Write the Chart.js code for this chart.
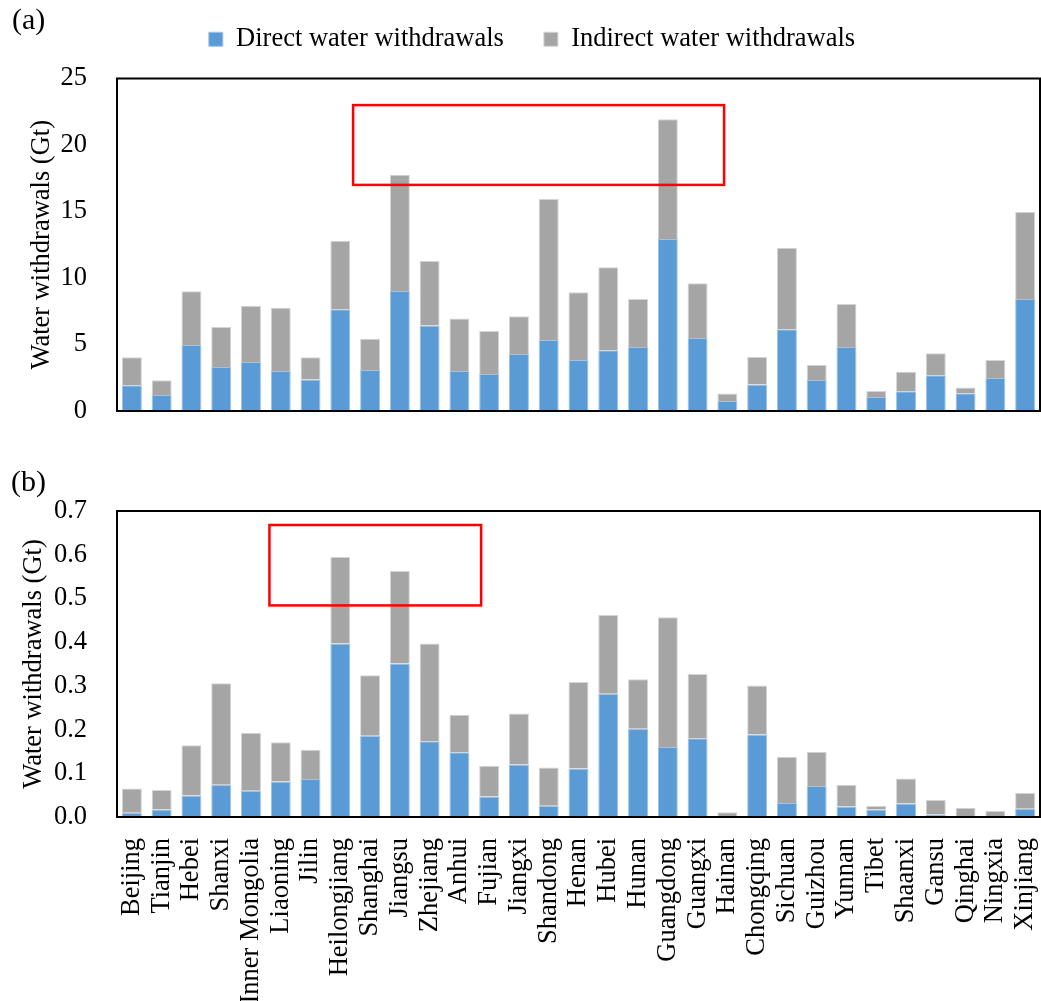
<!DOCTYPE html>
<html>
<head>
<meta charset="utf-8">
<script src="https://cdn.jsdelivr.net/npm/chart.js@4/dist/chart.umd.min.js"></script>
<style>
  html, body { margin: 0; padding: 0; background: #fff; }
  #wrap { position: relative; width: 1041px; height: 1001px; }
  #panelA { position: absolute; left: 0; top: 0; }
  #panelB { position: absolute; left: 0; top: 430px; }
</style>
</head>
<body>
<div id="wrap">
  <canvas id="panelA" width="1041" height="430"></canvas>
  <canvas id="panelB" width="1041" height="571"></canvas>
</div>
<script>
// Provinces along the x axis
const provinces = ['Beijing','Tianjin','Hebei','Shanxi','Inner Mongolia','Liaoning','Jilin',
  'Heilongjiang','Shanghai','Jiangsu','Zhejiang','Anhui','Fujian','Jiangxi','Shandong','Henan',
  'Hubei','Hunan','Guangdong','Guangxi','Hainan','Chongqing','Sichuan','Guizhou','Yunnan',
  'Tibet','Shaanxi','Gansu','Qinghai','Ningxia','Xinjiang'];

const seriesNames = ['Direct water withdrawals', 'Indirect water withdrawals'];

// Panel (a): water withdrawals, Gt
const directA = [1.93,1.20,4.96,3.31,3.68,3.00,2.36,7.65,3.08,9.02,6.42,3.00,2.78,4.29,5.34,3.83,
  4.56,4.81,12.93,5.49,0.75,2.00,6.14,2.33,4.81,1.05,1.48,2.68,1.33,2.48,8.42];
const indirectA = [2.11,1.11,4.04,3.01,4.24,4.77,1.68,5.16,2.36,8.75,4.86,3.95,3.24,2.83,10.60,5.09,
  6.24,3.61,9.00,4.11,0.56,2.06,6.14,1.13,3.24,0.45,1.48,1.66,0.43,1.35,6.54];

// Panel (b): water withdrawals, Gt
const directB = [0.010,0.017,0.049,0.074,0.060,0.081,0.087,0.397,0.186,0.351,0.173,0.148,0.047,0.120,
  0.026,0.111,0.282,0.202,0.160,0.180,0.001,0.189,0.032,0.071,0.024,0.017,0.031,0.006,0.001,0.001,0.019];
const indirectB = [0.055,0.045,0.115,0.232,0.133,0.090,0.067,0.198,0.138,0.212,0.224,0.086,0.070,0.117,
  0.087,0.198,0.180,0.113,0.297,0.147,0.010,0.112,0.106,0.078,0.050,0.008,0.057,0.033,0.020,0.013,0.036];

// Y axis ranges
const yTicksA = { min: 0, max: 25, step: 5 };
const yTicksB = { min: 0, max: 0.7, step: 0.1 };

// Highlight rectangles in data units: category index span and value span
const highlightA = { x0: 7.43, x1: 19.89, y0: 17, y1: 23 };
const highlightB = { x0: 4.62, x1: 11.73, y0: 0.484, y1: 0.668 };

const BLUE = '#5B9BD5';
const GREY = '#A5A5A5';
const FONT = { family: "'Liberation Serif', 'Times New Roman', serif", size: 26.5 };

Chart.defaults.font.family = FONT.family;
Chart.defaults.font.size = FONT.size;
Chart.defaults.color = '#000';

// Black frame round the plot area
const framePlugin = {
  id: 'frame',
  afterDatasetsDraw(chart) {
    const { ctx, chartArea: a } = chart;
    ctx.save();
    ctx.strokeStyle = '#000';
    ctx.lineWidth = 2;
    ctx.strokeRect(a.left, a.top, a.right - a.left, a.bottom - a.top);
    ctx.restore();
  }
};

// Red highlight rectangle, positioned through the chart scales
const highlightPlugin = {
  id: 'highlight',
  afterDatasetsDraw(chart, args, opts) {
    if (!opts || !opts.box) return;
    const { ctx, scales: { x, y } } = chart;
    const b = opts.box;
    const l = x.getPixelForValue(b.x0), r = x.getPixelForValue(b.x1);
    const t = y.getPixelForValue(b.y1), btm = y.getPixelForValue(b.y0);
    ctx.save();
    ctx.strokeStyle = '#FF0000';
    ctx.lineWidth = 2.5;
    ctx.strokeRect(l, t, r - l, btm - t);
    ctx.restore();
  }
};

// Panel letter in the top-left corner
const panelLabelPlugin = {
  id: 'panelLabel',
  afterDraw(chart, args, opts) {
    if (!opts || !opts.text) return;
    const ctx = chart.ctx;
    ctx.save();
    ctx.font = `30px ${FONT.family}`;
    ctx.fillStyle = '#000';
    ctx.textAlign = 'left';
    ctx.textBaseline = 'middle';
    ctx.fillText(opts.text, opts.x, opts.y);
    ctx.restore();
  }
};

// Move the legend row after layout
const legendShiftPlugin = {
  id: 'legendShift',
  afterLayout(chart, args, opts) {
    if (chart.legend && opts) {
      const dx = opts.dx || 0, dy = opts.dy || 0;
      chart.legend.left += dx;
      chart.legend.right += dx;
      chart.legend.top += dy;
      chart.legend.bottom += dy;
    }
  }
};

function makeDatasets(direct, indirect) {
  return [
    { label: seriesNames[0], data: direct, backgroundColor: BLUE, borderColor: '#9DC3E6',
      borderWidth: 1, stack: 's', barPercentage: 0.67, categoryPercentage: 1.0 },
    { label: seriesNames[1], data: indirect, backgroundColor: GREY, borderColor: '#D4D4D4',
      borderWidth: 1, stack: 's', barPercentage: 0.67, categoryPercentage: 1.0 }
  ];
}

function makeOptions(cfg) {
  return {
    responsive: false,
    animation: false,
    devicePixelRatio: 1,
    layout: { padding: cfg.padding },
    plugins: {
      legend: cfg.legend,
      tooltip: { enabled: false },
      highlight: { box: cfg.box },
      panelLabel: cfg.panel,
      legendShift: cfg.legendShift || {}
    },
    scales: {
      x: {
        stacked: true,
        offset: true,
        grid: { display: false, drawTicks: false },
        border: { display: false },
        ticks: cfg.xTicks,
        afterFit(s) {
          s.height = cfg.xHeight;
          s.paddingLeft = 0;
          s.paddingRight = 0;
        }
      },
      y: {
        stacked: true,
        min: cfg.yRange.min,
        max: cfg.yRange.max,
        grid: { display: false, drawTicks: false },
        border: { display: false },
        ticks: {
          stepSize: cfg.yRange.step,
          padding: 30,
          callback: cfg.yFormat
        },
        title: {
          display: true,
          text: 'Water withdrawals (Gt)',
          padding: { top: cfg.titlePad, bottom: 0 }
        },
        afterFit(s) {
          s.width = 117;
          s.paddingTop = 0;
          s.paddingBottom = 0;
        }
      }
    }
  };
}

new Chart(document.getElementById('panelA'), {
  type: 'bar',
  data: { labels: provinces, datasets: makeDatasets(directA, indirectA) },
  options: makeOptions({
    padding: { top: 2, right: 1, bottom: 19, left: 0 },
    legend: {
      display: true,
      position: 'top',
      labels: { boxWidth: 14, boxHeight: 14, padding: 40, color: '#000' }
    },
    legendShift: { dx: 12, dy: -16 },
    box: highlightA,
    panel: { text: '(a)', x: 12, y: 21 },
    xTicks: { display: false },
    xHeight: 0,
    yRange: yTicksA,
    yFormat: v => String(v),
    titlePad: 26
  }),
  plugins: [framePlugin, highlightPlugin, panelLabelPlugin, legendShiftPlugin]
});

new Chart(document.getElementById('panelB'), {
  type: 'bar',
  data: { labels: provinces, datasets: makeDatasets(directB, indirectB) },
  options: makeOptions({
    padding: { top: 81, right: 1, bottom: 0, left: 0 },
    legend: { display: false },
    box: highlightB,
    panel: { text: '(b)', x: 11, y: 53 },
    xTicks: { display: true, minRotation: 90, maxRotation: 90, autoSkip: false, padding: 21 },
    xHeight: 184,
    yRange: yTicksB,
    yFormat: v => Number(v).toFixed(1),
    titlePad: 18
  }),
  plugins: [framePlugin, highlightPlugin, panelLabelPlugin, legendShiftPlugin]
});
</script>
</body>
</html>
